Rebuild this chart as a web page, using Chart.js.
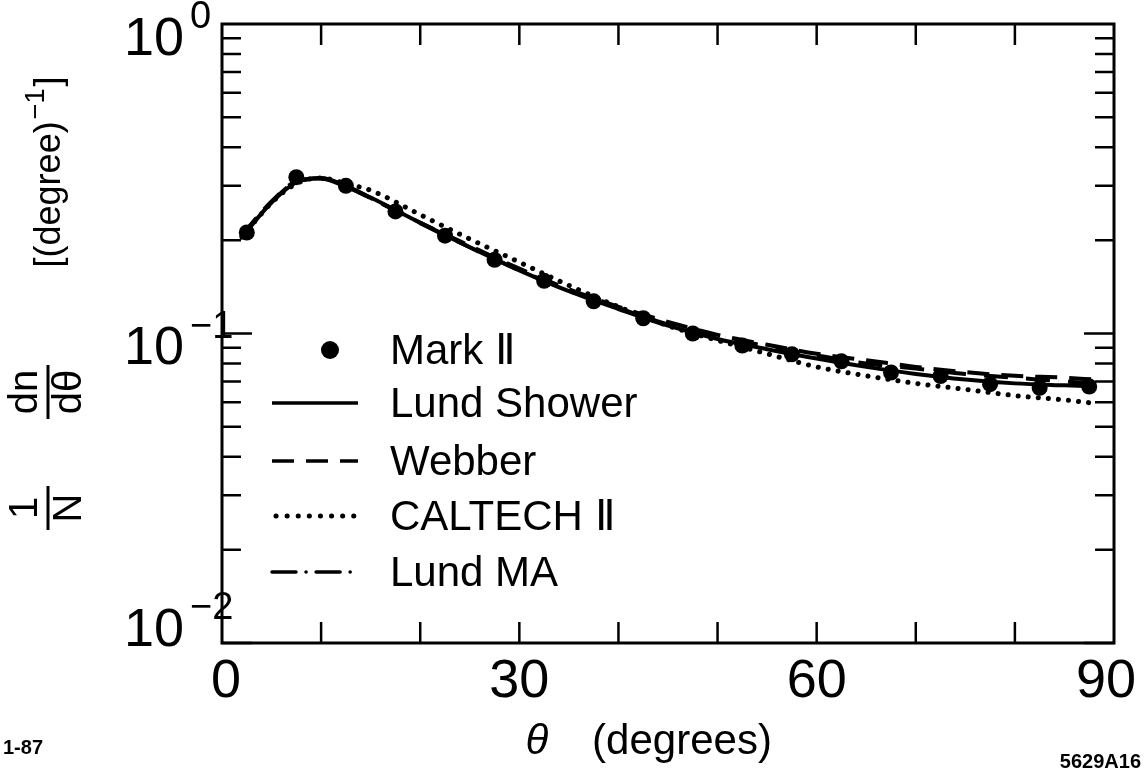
<!DOCTYPE html>
<html>
<head>
<meta charset="utf-8">
<script src="https://cdn.jsdelivr.net/npm/chart.js@4.4.1/dist/chart.umd.min.js"></script>
<style>
  html, body { margin: 0; padding: 0; background: #fff; }
  #wrap { width: 1145px; height: 771px; position: relative; }
</style>
</head>
<body>
<div id="wrap"><canvas id="chart" width="1145" height="771"></canvas></div>
<script>
// Mark II data points (5 degree bins)
const markAngles = [2.5, 7.5, 12.5, 17.5, 22.5, 27.5, 32.5, 37.5, 42.5, 47.5, 52.5, 57.5, 62.5, 67.5, 72.5, 77.5, 82.5, 87.5];
const markValues = [0.212, 0.320, 0.300, 0.248, 0.207, 0.173, 0.148, 0.127, 0.112, 0.100, 0.0914, 0.0857, 0.0813, 0.0748, 0.0729, 0.0686, 0.0668, 0.0674];

// model curves, read at these angles
const curveAngles = [2, 5, 7.5, 10, 12.5, 15, 20, 25, 30, 35, 40, 45, 50, 55, 60, 65, 70, 75, 80, 85, 88];
const lundShower = [0.205, 0.265, 0.308, 0.318, 0.300, 0.275, 0.228, 0.190, 0.160, 0.137, 0.120, 0.106, 0.096, 0.089, 0.083, 0.078, 0.074, 0.071, 0.069, 0.068, 0.0675];
const webber     = [0.208, 0.267, 0.310, 0.316, 0.298, 0.274, 0.228, 0.192, 0.162, 0.139, 0.122, 0.109, 0.099, 0.092, 0.086, 0.082, 0.078, 0.075, 0.073, 0.072, 0.071];
const caltech    = [0.205, 0.264, 0.305, 0.318, 0.305, 0.290, 0.242, 0.202, 0.170, 0.143, 0.122, 0.106, 0.095, 0.086, 0.078, 0.073, 0.069, 0.066, 0.063, 0.061, 0.0595];
const lundMA     = [0.207, 0.266, 0.309, 0.317, 0.299, 0.274, 0.227, 0.190, 0.160, 0.138, 0.121, 0.107, 0.098, 0.091, 0.085, 0.080, 0.077, 0.074, 0.072, 0.070, 0.069];

const xTickLabels = [0, 30, 60, 90];
const yTickLabels = [{ v: 1, exp: "0" }, { v: 0.1, exp: "\u22121" }, { v: 0.01, exp: "\u22122" }];

const FONT = '"Liberation Sans", Arial, sans-serif';

function pts(xs, ys) {
  return xs.map((x, i) => ({ x: x, y: ys[i] }));
}

function curve(label, data, dash) {
  const dotted = dash && dash[0] < 1;
  return {
    label: label,
    data: pts(curveAngles, data),
    showLine: true,
    borderColor: "#000",
    borderWidth: dotted ? 5 : 4,
    borderDash: dash || [],
    borderCapStyle: dotted ? "round" : "butt",
    pointRadius: 0,
    cubicInterpolationMode: "monotone",
    fill: false
  };
}

const frame = {
  id: "frame",
  afterDraw(chart) {
    const ctx = chart.ctx;
    const a = chart.chartArea;
    const xs = chart.scales.x;
    const ys = chart.scales.y;
    ctx.save();
    ctx.strokeStyle = "#000";
    ctx.fillStyle = "#000";

    // box
    ctx.lineWidth = 3;
    ctx.strokeRect(a.left, a.top, a.right - a.left, a.bottom - a.top);

    // x ticks, inward, bottom and top
    ctx.lineWidth = 2.5;
    for (let v = 10; v < 90; v += 10) {
      const px = xs.getPixelForValue(v);
      ctx.beginPath();
      ctx.moveTo(px, a.bottom); ctx.lineTo(px, a.bottom - 21);
      ctx.moveTo(px, a.top); ctx.lineTo(px, a.top + 21);
      ctx.stroke();
    }

    // y ticks, log, both sides
    [0.01, 0.1].forEach(d => {
      for (let k = 1; k <= 9; k++) {
        const py = ys.getPixelForValue(k * d);
        const len = k === 1 ? 30 : 19;
        ctx.beginPath();
        ctx.moveTo(a.left, py); ctx.lineTo(a.left + len, py);
        ctx.moveTo(a.right, py); ctx.lineTo(a.right - len, py);
        ctx.stroke();
      }
    });

    // x tick labels
    ctx.font = "54px " + FONT;
    ctx.textAlign = "center";
    ctx.textBaseline = "middle";
    xTickLabels.forEach(v => {
      let px = xs.getPixelForValue(v);
      if (v === 0) px += 4;
      if (v === 90) px -= 8;
      ctx.fillText(String(v), px, 682);
    });

    // y tick labels with exponents
    yTickLabels.forEach(t => {
      let py = ys.getPixelForValue(t.v);
      let cy = t.v === 0.01 ? py - 12 : py + 16;
      ctx.font = "54px " + FONT;
      ctx.textAlign = "right";
      ctx.fillText("10", 184, cy);
      ctx.font = "38px " + FONT;
      ctx.textAlign = "left";
      ctx.fillText(t.exp, 190, cy - 22);
    });

    // x axis title
    ctx.font = "italic 42px " + FONT;
    ctx.textAlign = "center";
    ctx.fillText("\u03b8", 537, 742);
    ctx.font = "42px " + FONT;
    ctx.fillText("(degrees)", 682, 742);

    // y axis title (rotated)
    ctx.save();
    ctx.translate(48, 508);
    ctx.rotate(-Math.PI / 2);
    ctx.font = "40px " + FONT;
    ctx.textAlign = "center";
    ctx.fillText("1", 0, -22);
    ctx.fillText("N", 0, 22);
    ctx.lineWidth = 3;
    ctx.beginPath(); ctx.moveTo(-22, 0); ctx.lineTo(22, 0); ctx.stroke();
    ctx.restore();

    ctx.save();
    ctx.translate(48, 392);
    ctx.rotate(-Math.PI / 2);
    ctx.font = "40px " + FONT;
    ctx.textAlign = "center";
    ctx.fillText("dn", 0, -22);
    ctx.fillText("d\u03b8", 0, 22);
    ctx.lineWidth = 3;
    ctx.beginPath(); ctx.moveTo(-27, 0); ctx.lineTo(27, 0); ctx.stroke();
    ctx.restore();

    ctx.save();
    ctx.translate(50, 172);
    ctx.rotate(-Math.PI / 2);
    ctx.textAlign = "left";
    const p1 = "[(degree)", p3 = "]";
    ctx.font = "27px " + FONT;
    const w2 = ctx.measureText("\u22121").width;
    ctx.font = "36px " + FONT;
    const w1 = ctx.measureText(p1).width;
    const w3 = ctx.measureText(p3).width;
    let x0 = -(w1 + w2 + w3 + 4) / 2;
    ctx.fillText(p1, x0, 0);
    ctx.font = "27px " + FONT;
    ctx.fillText("\u22121", x0 + w1 + 2, -13);
    ctx.font = "36px " + FONT;
    ctx.fillText(p3, x0 + w1 + w2 + 4, 0);
    ctx.restore();

    // legend
    const rows = [
      { y: 350, label: "Mark \u2161" },
      { y: 403, label: "Lund Shower", dash: [] },
      { y: 461, label: "Webber", dash: [22, 12] },
      { y: 516, label: "CALTECH \u2161", dash: [0.1, 11] },
      { y: 572, label: "Lund MA", dash: [24, 10, 0.1, 10] }
    ];
    rows.forEach(r => {
      if (!r.dash) {
        ctx.beginPath();
        ctx.arc(330, r.y, 9, 0, Math.PI * 2);
        ctx.fill();
      } else {
        ctx.save();
        ctx.setLineDash(r.dash);
        const dotted = r.dash.length && r.dash[0] < 1;
        ctx.lineCap = r.dash.length === 4 || dotted ? "round" : "butt";
        ctx.lineWidth = dotted ? 5 : 3.5;
        ctx.beginPath();
        ctx.moveTo(dotted ? 276 : 272, r.y);
        ctx.lineTo(358, r.y);
        ctx.stroke();
        ctx.restore();
      }
      ctx.font = "42px " + FONT;
      ctx.textAlign = "left";
      ctx.textBaseline = "middle";
      ctx.fillText(r.label, 390, r.y + 2);
    });

    // corner notes
    ctx.font = "bold 20px " + FONT;
    ctx.textAlign = "left";
    ctx.fillText("1-87", 3, 748);
    ctx.textAlign = "right";
    ctx.fillText("5629A16", 1141, 762);

    ctx.restore();
  }
};

new Chart(document.getElementById("chart"), {
  type: "line",
  data: {
    datasets: [
      curve("Lund Shower", lundShower),
      curve("Webber", webber, [22, 12]),
      curve("CALTECH II", caltech, [0.1, 10]),
      curve("Lund MA", lundMA, [24, 9, 0.1, 9]),
      {
        label: "Mark II",
        data: pts(markAngles, markValues),
        showLine: false,
        pointRadius: 8,
        pointBackgroundColor: "#000",
        pointBorderColor: "#000",
        pointBorderWidth: 0
      }
    ]
  },
  options: {
    responsive: false,
    animation: false,
    layout: { padding: { left: 222, right: 31, top: 24, bottom: 128 } },
    plugins: { legend: { display: false }, tooltip: { enabled: false } },
    scales: {
      x: { type: "linear", min: 0, max: 90, display: false },
      y: { type: "logarithmic", min: 0.01, max: 1, display: false }
    }
  },
  plugins: [frame]
});
</script>
</body>
</html>
